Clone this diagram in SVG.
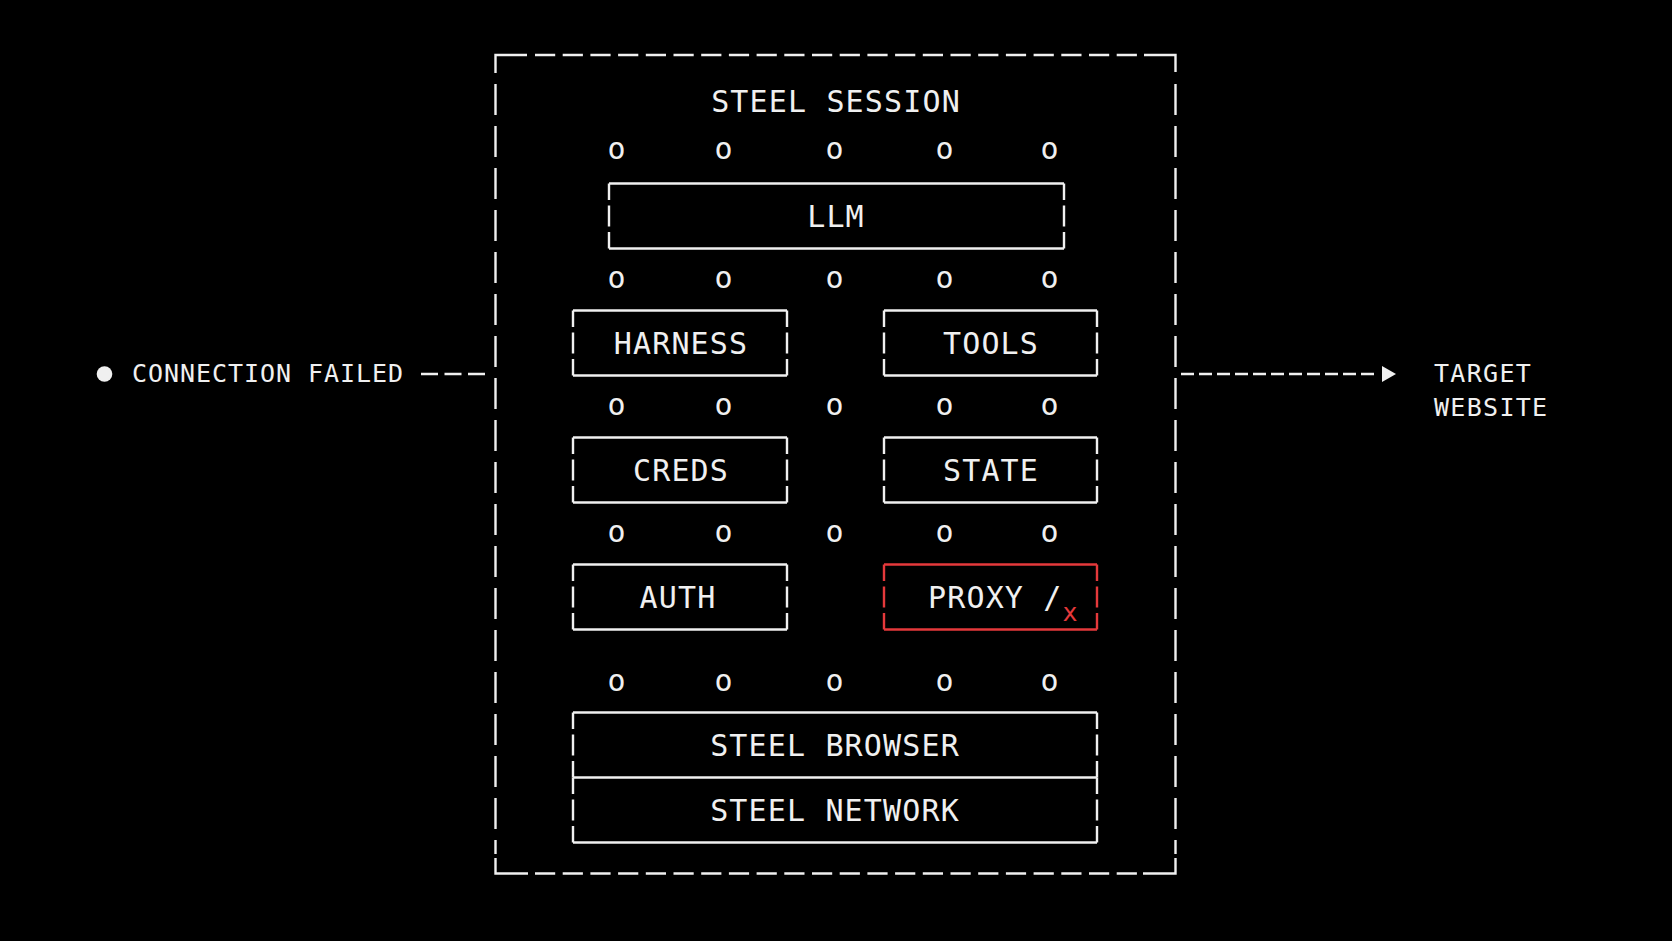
<svg xmlns="http://www.w3.org/2000/svg" width="1672" height="941" viewBox="0 0 1672 941">
  <defs>
    <style>
      .t { font-family: "DejaVu Sans Mono", "Liberation Mono", monospace; font-size: 30px; letter-spacing: 1.15px; fill: #f0f0f0; }
      .mid { text-anchor: middle; }
      .s { font-family: "DejaVu Sans Mono", "Liberation Mono", monospace; font-size: 25px; letter-spacing: 1.3px; fill: #f0f0f0; }
      .s2 { letter-spacing: 0.95px; }
      .edge { stroke: #f0f0f0; stroke-width: 2.4; fill: none; }
      .side { stroke: #f0f0f0; stroke-width: 2.4; fill: none; stroke-dasharray: 16.5 5.5 21 5.5 16.5; }
      .red { stroke: #e5393b; }
      .oh { stroke: #f0f0f0; stroke-width: 2.4; fill: none; stroke-dasharray: 20.2 7.5; }
      .ov { stroke: #f0f0f0; stroke-width: 2.4; fill: none; stroke-dasharray: 31 11; }
      .conn { stroke: #f0f0f0; stroke-width: 2.4; fill: none; }
    </style>
    <marker id="arrow" markerUnits="userSpaceOnUse" markerWidth="24" markerHeight="16" refX="0" refY="8" orient="auto" overflow="visible">
      <path d="M8,0 L22,8 L8,16 Z" fill="#f0f0f0"/>
    </marker>
  </defs>
  <rect x="0" y="0" width="1672" height="941" fill="#000"/>

  <g id="steel-session">
    <path class="edge" d="M527,55 H495.5 V73"/>
    <path class="edge" d="M1144,55 H1175.5 V72"/>
    <path class="edge" d="M495.5,858 V873.5 H528"/>
    <path class="edge" d="M1175.5,858 V873.5 H1143"/>
    <line class="oh" x1="535" y1="55" x2="1137" y2="55"/>
    <line class="oh" x1="535" y1="873.5" x2="1137" y2="873.5"/>
    <line class="ov" x1="495.5" y1="84" x2="495.5" y2="854"/>
    <line class="ov" x1="1175.5" y1="84" x2="1175.5" y2="854"/>
    <text class="t mid" x="836" y="112">STEEL SESSION</text>
  </g>

  <g id="ports">
    <text class="t mid" y="159"><tspan x="617">o</tspan><tspan x="724">o</tspan><tspan x="835">o</tspan><tspan x="945">o</tspan><tspan x="1050">o</tspan></text>
    <text class="t mid" y="288"><tspan x="617">o</tspan><tspan x="724">o</tspan><tspan x="835">o</tspan><tspan x="945">o</tspan><tspan x="1050">o</tspan></text>
    <text class="t mid" y="415"><tspan x="617">o</tspan><tspan x="724">o</tspan><tspan x="835">o</tspan><tspan x="945">o</tspan><tspan x="1050">o</tspan></text>
    <text class="t mid" y="542"><tspan x="617">o</tspan><tspan x="724">o</tspan><tspan x="835">o</tspan><tspan x="945">o</tspan><tspan x="1050">o</tspan></text>
    <text class="t mid" y="691"><tspan x="617">o</tspan><tspan x="724">o</tspan><tspan x="835">o</tspan><tspan x="945">o</tspan><tspan x="1050">o</tspan></text>
  </g>

  <g id="llm">
    <line class="edge" x1="609" y1="183.5" x2="1064" y2="183.5"/>
    <line class="edge" x1="609" y1="248.5" x2="1064" y2="248.5"/>
    <line class="side" x1="609" y1="183.5" x2="609" y2="248.5"/>
    <line class="side" x1="1064" y1="183.5" x2="1064" y2="248.5"/>
    <text class="t mid" x="836" y="226.5">LLM</text>
  </g>

  <g id="harness">
    <line class="edge" x1="573" y1="310.5" x2="787" y2="310.5"/>
    <line class="edge" x1="573" y1="375.5" x2="787" y2="375.5"/>
    <line class="side" x1="573" y1="310.5" x2="573" y2="375.5"/>
    <line class="side" x1="787" y1="310.5" x2="787" y2="375.5"/>
    <text class="t mid" x="681" y="353.5">HARNESS</text>
  </g>

  <g id="tools">
    <line class="edge" x1="884" y1="310.5" x2="1097" y2="310.5"/>
    <line class="edge" x1="884" y1="375.5" x2="1097" y2="375.5"/>
    <line class="side" x1="884" y1="310.5" x2="884" y2="375.5"/>
    <line class="side" x1="1097" y1="310.5" x2="1097" y2="375.5"/>
    <text class="t mid" x="991" y="353.5">TOOLS</text>
  </g>

  <g id="creds">
    <line class="edge" x1="573" y1="437.5" x2="787" y2="437.5"/>
    <line class="edge" x1="573" y1="502.5" x2="787" y2="502.5"/>
    <line class="side" x1="573" y1="437.5" x2="573" y2="502.5"/>
    <line class="side" x1="787" y1="437.5" x2="787" y2="502.5"/>
    <text class="t mid" x="681" y="480.5">CREDS</text>
  </g>

  <g id="state">
    <line class="edge" x1="884" y1="437.5" x2="1097" y2="437.5"/>
    <line class="edge" x1="884" y1="502.5" x2="1097" y2="502.5"/>
    <line class="side" x1="884" y1="437.5" x2="884" y2="502.5"/>
    <line class="side" x1="1097" y1="437.5" x2="1097" y2="502.5"/>
    <text class="t mid" x="991" y="480.5">STATE</text>
  </g>

  <g id="auth">
    <line class="edge" x1="573" y1="564.5" x2="787" y2="564.5"/>
    <line class="edge" x1="573" y1="629.5" x2="787" y2="629.5"/>
    <line class="side" x1="573" y1="564.5" x2="573" y2="629.5"/>
    <line class="side" x1="787" y1="564.5" x2="787" y2="629.5"/>
    <text class="t mid" x="678" y="607.5">AUTH</text>
  </g>

  <g id="proxy">
    <line class="edge red" x1="884" y1="564.5" x2="1097" y2="564.5"/>
    <line class="edge red" x1="884" y1="629.5" x2="1097" y2="629.5"/>
    <line class="side red" x1="884" y1="564.5" x2="884" y2="629.5"/>
    <line class="side red" x1="1097" y1="564.5" x2="1097" y2="629.5"/>
    <text class="t" x="928" y="607.5">PROXY /<tspan dy="13" style="font-size:25px;fill:#e5393b;letter-spacing:0">x</tspan></text>
  </g>

  <g id="steel-browser">
    <line class="edge" x1="573" y1="712.5" x2="1097" y2="712.5"/>
    <line class="side" x1="573" y1="712.5" x2="573" y2="777.5"/>
    <line class="side" x1="1097" y1="712.5" x2="1097" y2="777.5"/>
    <text class="t mid" x="835" y="755.5">STEEL BROWSER</text>
  </g>

  <g id="steel-network">
    <line class="edge" x1="573" y1="777.5" x2="1097" y2="777.5"/>
    <line class="edge" x1="573" y1="842.5" x2="1097" y2="842.5"/>
    <line class="side" x1="573" y1="777.5" x2="573" y2="842.5"/>
    <line class="side" x1="1097" y1="777.5" x2="1097" y2="842.5"/>
    <text class="t mid" x="835" y="820.5">STEEL NETWORK</text>
  </g>

  <g id="connection-failed">
    <circle cx="104.5" cy="374" r="7.8" fill="#f0f0f0"/>
    <text class="s s2" x="132" y="381.7">CONNECTION FAILED</text>
  </g>

  <g id="target-website">
    <text class="s" x="1434" y="381.7">TARGET</text>
    <text class="s" x="1434" y="416">WEBSITE</text>
  </g>

  <g id="connectors">
    <line class="conn" x1="421" y1="374" x2="485" y2="374" stroke-dasharray="17 6.5"/>
    <line class="conn" x1="1181" y1="374" x2="1374" y2="374" stroke-dasharray="13 5" marker-end="url(#arrow)"/>
  </g>
</svg>
